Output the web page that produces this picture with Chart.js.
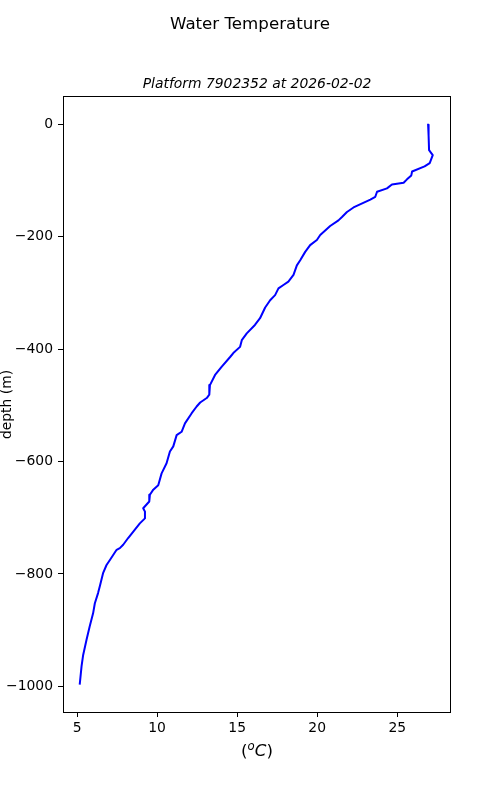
<!DOCTYPE html>
<html>
<head>
<meta charset="utf-8">
<script src="https://cdn.jsdelivr.net/npm/chart.js@4.4.0/dist/chart.umd.min.js"></script>
<style>
  body { margin: 0; background: #fff; }
</style>
</head>
<body>
<canvas id="myChart" width="500" height="800"></canvas>
<script>
// profile: temperature (C) at each depth (m)
const temps = [
  26.93, 26.96, 26.99, 27.22, 27.03, 26.71, 25.93, 25.88, 25.61, 25.40,
  24.67, 24.36, 23.74, 23.63, 23.32, 22.27, 21.86, 21.55, 21.33, 20.81,
  20.19, 19.98, 19.56, 19.25, 18.94, 18.73, 18.52, 18.20, 17.89, 17.58,
  17.37, 17.06, 16.75, 16.43, 16.11, 15.60, 15.29, 15.18, 14.76,
  14.56, 14.04, 13.62, 13.30, 13.26, 13.10, 12.69, 12.47, 12.16, 11.74,
  11.53, 11.22, 11.01, 10.80, 10.59, 10.28, 10.07, 9.76, 9.55, 9.51,
  9.13, 9.24, 9.24, 8.92, 8.50, 8.19, 7.88, 7.67, 7.47, 7.05,
  6.84, 6.63, 6.42, 6.31, 6.11, 6.00, 5.79, 5.59, 5.38, 5.28, 5.17
];
const depths = [
  -1, -20, -46, -55, -69, -75, -84, -91, -98, -104,
  -107, -114, -120, -129, -134, -148, -156, -165, -171, -181,
  -197, -206, -215, -227, -242, -251, -268, -280, -286, -292,
  -304, -313, -326, -345, -357, -372, -384, -396, -407,
  -414, -431, -446, -464, -481, -487, -495, -502, -514, -532,
  -547, -553, -573, -582, -603, -621, -642, -650, -659, -671,
  -683, -689, -701, -710, -725, -736, -748, -754, -757, -775,
  -784, -798, -822, -834, -852, -870, -893, -917, -944, -964, -995
];
const xTicks = [5, 10, 15, 20, 25];
const yTicks = [0, -200, -400, -600, -800, -1000];

const FONT = '"DejaVu Sans", sans-serif';

// frame + titles drawn by hand, like matplotlib does
const decor = {
  id: 'decor',
  afterDraw(chart) {
    const ctx = chart.ctx;
    const a = chart.chartArea;
    ctx.save();
    ctx.strokeStyle = '#000';
    ctx.lineWidth = 1;
    ctx.strokeRect(a.left + 0.5, a.top - 0.5, a.right - a.left - 1, a.bottom - a.top + 1);

    ctx.fillStyle = '#000';
    ctx.textAlign = 'center';
    ctx.textBaseline = 'alphabetic';
    ctx.font = '16.67px ' + FONT;
    ctx.fillText('Water Temperature', 250, 28.5);

    const cx = (a.left + a.right) / 2;
    ctx.font = 'italic 13.9px ' + FONT;
    ctx.fillText('Platform 7902352 at 2026-02-02', cx, 87.5);

    // y label
    ctx.save();
    ctx.translate(11, (a.top + a.bottom) / 2);
    ctx.rotate(-Math.PI / 2);
    ctx.font = '13.9px ' + FONT;
    ctx.fillText('depth (m)', 0, 0);
    ctx.restore();

    // x label: (^oC)
    const up = '16.67px ' + FONT, it = 'italic 16.67px ' + FONT, sup = 'italic 11.7px ' + FONT;
    const parts = [['(', up, 0], ['o', sup, -6.5], ['C', it, 0], [')', up, 0]];
    let w = 0;
    parts.forEach(p => { ctx.font = p[1]; w += ctx.measureText(p[0]).width; });
    let x = cx - w / 2;
    ctx.textAlign = 'left';
    parts.forEach(p => {
      ctx.font = p[1];
      ctx.fillText(p[0], x, 756 + p[2]);
      x += ctx.measureText(p[0]).width;
    });
    ctx.restore();
  }
};

const tickFont = { family: FONT, size: 13.9 };

new Chart(document.getElementById('myChart'), {
  type: 'scatter',
  data: {
    datasets: [{
      data: temps.map((t, i) => ({ x: t, y: depths[i] })),
      showLine: true,
      borderColor: '#0000ff',
      borderWidth: 2,
      borderJoinStyle: 'round',
      borderCapStyle: 'square',
      pointRadius: 0,
      tension: 0,
      fill: false
    }]
  },
  options: {
    responsive: false,
    animation: false,
    layout: { padding: { top: 97, right: 49, left: 0, bottom: 0 } },
    plugins: { legend: { display: false }, tooltip: { enabled: false } },
    scales: {
      x: {
        type: 'linear',
        min: 4.12,
        max: 28.36,
        afterBuildTicks: s => { s.ticks = xTicks.map(v => ({ value: v })); },
        afterFit: s => { s.height = 88; },
        border: { display: false },
        grid: { drawOnChartArea: false, drawTicks: true, tickLength: 5, color: '#000' },
        ticks: { color: '#000', font: tickFont, padding: 3, maxRotation: 0 }
      },
      y: {
        type: 'linear',
        min: -1045.5,
        max: 48.5,
        afterBuildTicks: s => { s.ticks = yTicks.map(v => ({ value: v })); },
        afterFit: s => { s.width = 63; },
        border: { display: false },
        grid: { drawOnChartArea: false, drawTicks: true, tickLength: 5, color: '#000' },
        ticks: {
          color: '#000', font: tickFont, padding: 5,
          callback: v => String(v).replace('-', '\u2212')
        }
      }
    }
  },
  plugins: [decor]
});
</script>
</body>
</html>
